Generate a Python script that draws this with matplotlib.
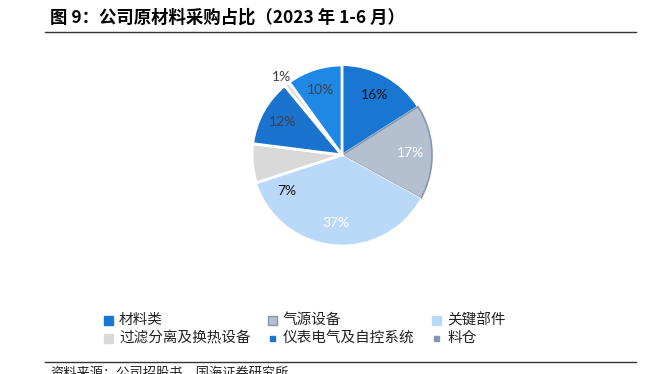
import matplotlib
matplotlib.use("Agg")
import matplotlib.pyplot as plt
from matplotlib.patches import Rectangle
from matplotlib.lines import Line2D

plt.rcParams['font.family'] = ['Noto Sans CJK SC', 'DejaVu Sans']

# data (clockwise from 12 o'clock)
values = [16, 17, 37, 7, 12, 1, 10]
pct_labels = ['16%', '17%', '37%', '7%', '12%', '1%', '10%']
wedge_colors = ['#1976D2', '#B4BFD0', '#BAD9F8', '#D9D9D9', '#1A73CF', '#D6DCE5', '#1F88E5']
label_colors = ['#111111', 'white', 'white', '#111111', '#404040', '#404040', '#404040']

legend_names = ['材料类', '气源设备', '关键部件',
                '过滤分离及换热设备', '仪表电气及自控系统', '料仓']
legend_colors = ['#1976D2', '#B4BFD0', '#BAD9F8', '#D9D9D9', '#1976D2', '#8497B0']
legend_edges = ['#1976D2', '#8497B0', '#BAD9F8', '#D9D9D9', '#1976D2', '#8497B0']
legend_small = [False, False, False, False, True, True]

title = '图 9：公司原材料采购占比（2023 年 1-6 月）'
source = '资料来源：公司招股书，国海证券研究所'

fig = plt.figure(figsize=(6.58, 3.74), dpi=100)

ax = fig.add_axes([0.383, 0.345, 0.2736, 0.4813])
wedges, texts, autotexts = ax.pie(values, colors=wedge_colors, startangle=90,
                                  counterclock=False, autopct='%1.0f%%',
                                  pctdistance=0.76,
                                  wedgeprops=dict(edgecolor='white', linewidth=0.5))
ax.set_xlim(-1.0, 1.0)
ax.set_ylim(-1.0, 1.0)
ax.set_aspect('equal')
ax.axis('off')

# styling of wedges
wedges[1].set_edgecolor('#8497B0')
wedges[1].set_linewidth(1.2)
for i in (3, 4, 5, 6):
    wedges[i].set_edgecolor('white')
    wedges[i].set_linewidth(2)
wedges[0].set_edgecolor('white')
wedges[0].set_linewidth(1.5)

for t, lab, c in zip(autotexts, pct_labels, label_colors):
    t.set_text(lab)
    t.set_color(c)
    t.set_fontsize(10)
    t.set_family(['Lato', 'DejaVu Sans'])

# move the small-slice labels like the original
x, y = autotexts[5].get_position()
autotexts[5].set_position((x * 1.45, y * 1.45))
autotexts[3].set_position((-0.61, -0.40))

# title and rules
fig.text(0.076, 0.952, title, fontsize=12.5, fontweight='bold', va='center', ha='left')
fig.add_artist(Line2D([0.068, 0.967], [0.914, 0.914], color='#333333', lw=1.0))
fig.add_artist(Line2D([0.068, 0.967], [0.032, 0.032], color='#333333', lw=1.0))
fig.text(0.076, 0.0, source, fontsize=9.5, va='center', ha='left', color='#222222')

# legend drawn by hand (3 columns x 2 rows)
col_x = [104, 268, 432]
row_y = [320, 338]
W, H = 658, 374
for i, name in enumerate(legend_names):
    cx = col_x[i % 3]
    cy = row_y[i // 3]
    s = 5 if legend_small[i] else 9
    off = 2 if legend_small[i] else 0
    fig.add_artist(Rectangle(((cx + off) / W, (H - cy - s / 2) / H), s / W, s / H,
                             facecolor=legend_colors[i], edgecolor=legend_edges[i],
                             lw=1.0, transform=fig.transFigure))
    fig.text((cx + 15) / W, (H - cy) / H, name, fontsize=10.5, va='center', ha='left',
             color='#222222')

fig.savefig('out.png', dpi=100)
